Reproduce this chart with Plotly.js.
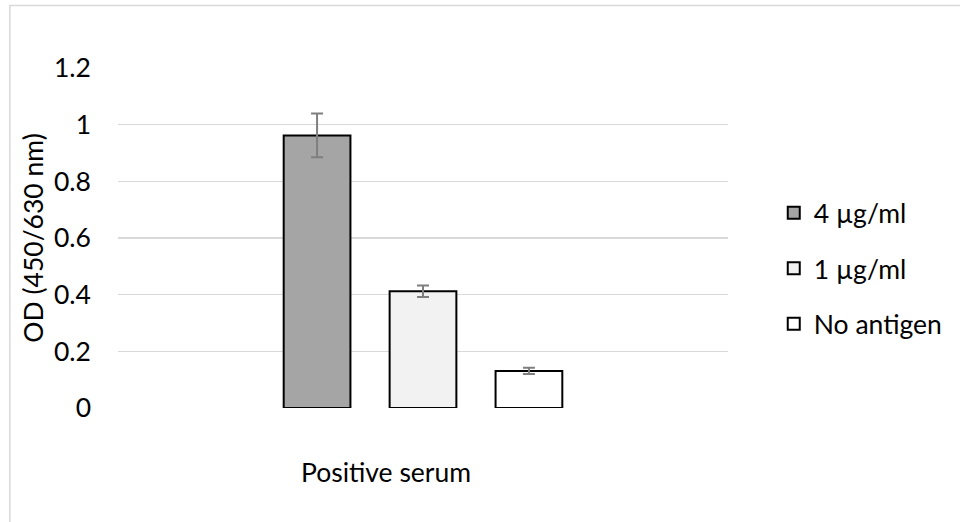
<!DOCTYPE html>
<html>
<head>
<meta charset="utf-8">
<script src="https://cdn.plot.ly/plotly-3.0.1.min.js"></script>
<style>
  html, body { margin: 0; padding: 0; background: #fff; }
  #chart { width: 960px; height: 522px; }
</style>
</head>
<body>
<div id="chart"></div>
<script>
const categories = ["Positive serum"];
const seriesNames = ["4 µg/ml", "1 µg/ml", "No antigen"];
const values4 = [0.962];
const errors4 = [0.077];
const values1 = [0.412];
const errors1 = [0.020];
const valuesNone = [0.131];
const errorsNone = [0.011];
const yTicks = [0, 0.2, 0.4, 0.6, 0.8, 1, 1.2];
const yTickLabels = ["0", "0.2", "0.4", "0.6", "0.8", "1", "1.2"];

const fills = ["#a5a5a5", "#f2f2f2", "#ffffff"];
const vals = [values4, values1, valuesNone];
const errs = [errors4, errors1, errorsNone];

const traces = seriesNames.map((name, i) => ({
  type: "bar",
  name: name,
  x: categories,
  y: vals[i],
  legendgroup: "g" + i,
  marker: { color: fills[i], line: { color: "#000000", width: 2 } },
  error_y: { type: "data", array: errs[i], visible: true, color: "#7f7f7f", thickness: 2, width: 6 }
}));

const FONT = "Lato, 'Open Sans', sans-serif";
const FS = 26.5;

const layout = {
  width: 960,
  height: 522,
  margin: { l: 118, r: 230, t: 68, b: 114 },
  paper_bgcolor: "#ffffff",
  plot_bgcolor: "#ffffff",
  font: { family: FONT, size: FS, color: "#000000" },
  barmode: "group",
  bargap: 0.479,
  bargroupgap: 0.37,
  showlegend: true,
  legend: {
    x: 1.075, xanchor: "left", y: 0.41, yanchor: "middle",
    font: { family: FONT, size: FS, color: "#000000" },
    tracegroupgap: 18,
    itemwidth: 30,
    traceorder: "grouped",
    bgcolor: "rgba(0,0,0,0)"
  },
  xaxis: {
    showline: false, showgrid: false, zeroline: false, ticks: "",
    tickfont: { family: FONT, size: FS, color: "#000000" },
    ticklabelshift: -37,
    ticklabelstandoff: 46
  },
  yaxis: {
    range: [0, 1.2],
    tickvals: yTicks,
    ticktext: yTickLabels,
    showline: false, zeroline: false,
    showgrid: true, gridcolor: "#d9d9d9", gridwidth: 1.5,
    ticks: "",
    ticklabelstandoff: 26,
    tickfont: { family: FONT, size: FS, color: "#000000" },
    title: { text: "OD (450/630 nm)", font: { family: FONT, size: FS, color: "#000000" }, standoff: 2 }
  },
  shapes: [{
    type: "rect", xref: "paper", yref: "paper",
    x0: -0.1773, x1: 1.6, y0: -0.6, y1: 1.1838,
    line: { color: "#d9d9d9", width: 1.5 }, fillcolor: "rgba(0,0,0,0)", layer: "below"
  }]
};

Plotly.newPlot("chart", traces, layout, { displayModeBar: false, staticPlot: true });
</script>
</body>
</html>
